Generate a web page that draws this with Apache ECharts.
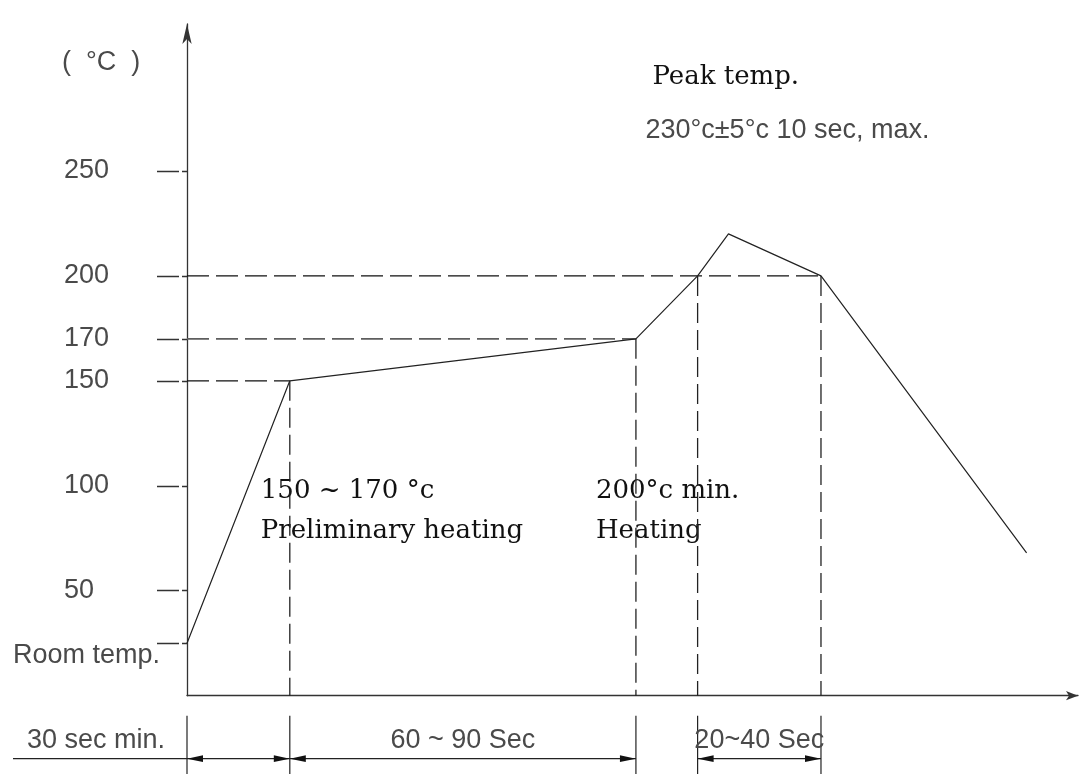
<!DOCTYPE html>
<html><head><meta charset="utf-8">
<script src="https://cdn.jsdelivr.net/npm/echarts@6/dist/echarts.min.js"></script>
<style>html,body{margin:0;padding:0;background:#fff}#chart{width:1084px;height:774px}</style>
</head><body><div id="chart"></div>
<script>
// ---- data (schematic reflow profile) ----
const timeSec = [0, 30, 131, 149, 158, 185, 245];
const tempC   = [25, 150, 170, 200, 220, 200, 68];
const yTickValues = [25, 50, 100, 150, 170, 200, 250];
const roomTemp = 25;
const refLevels = [150, 170, 200];
const refLevelEnds = [30, 131, 185];
const phaseTimes = [30, 131, 149, 185];
const phaseTemps = [150, 170, 200, 200];
const boundTimes = [0, 30, 131, 149, 185];
const spanStarts = [0, 30, 149];
const spanEnds   = [30, 131, 185];
const spanLabels = ['30 sec min.', '60 ~ 90 Sec', '20~40 Sec'];
const unitLabel = '(  °C  )';
const roomLabel = 'Room temp.';
const peakTitle = 'Peak temp.';
const peakNote = '230°c±5°c 10 sec, max.';
const preheatLines = ['150 ~ 170 °c', 'Preliminary heating'];
const heatLines = ['200°c min.', 'Heating'];

const CAD = '"Liberation Sans", "DejaVu Sans", sans-serif';
const SERIF = '"DejaVu Serif", "Liberation Serif", serif';
const CAD_COLOR = '#4a4a4a';
const chart = echarts.init(document.getElementById('chart'), null, {renderer: 'canvas'});

const series = [];
series.push({
  type: 'line', data: timeSec.map((t, i) => [t, tempC[i]]), symbol: 'none',
  lineStyle: {color: '#222', width: 1.2}, silent: true, z: 5, animation: false
});
refLevels.forEach((v, i) => series.push({
  type: 'line', data: [[0, v], [refLevelEnds[i], v]], symbol: 'none', silent: true, animation: false,
  lineStyle: {color: v === 170 ? '#5e5e5e' : '#111', width: v === 170 ? 1.8 : 1.3, type: [22, 7]}
}));
phaseTimes.forEach((t, i) => series.push({
  type: 'line', data: [[t, phaseTemps[i]], [t, 0]], symbol: 'none', silent: true, animation: false,
  lineStyle: {color: '#222', width: 1.3, type: [20, 7]}
}));

chart.setOption({
  backgroundColor: '#fff',
  animation: false,
  grid: {left: 187, right: 6, top: 24, bottom: 78.3, containLabel: false},
  xAxis: {
    type: 'value', min: 0, max: 260,
    axisLine: {show: true, symbol: ['none', 'arrow'], symbolSize: [7, 12], lineStyle: {color: '#333', width: 1.3}},
    axisTick: {show: false}, axisLabel: {show: false}, splitLine: {show: false}
  },
  yAxis: {
    type: 'value', min: 0, max: 320,
    axisLine: {show: true, symbol: ['none', 'arrow'], symbolSize: [7, 20], lineStyle: {color: '#333', width: 1.3}},
    axisTick: {show: true, customValues: yTickValues, length: 30, lineStyle: {color: '#333', width: 1.3, type: [5, 3, 22, 3]}},
    axisLabel: {
      show: true, customValues: yTickValues, margin: 123, align: 'left',
      formatter: v => (v === roomTemp ? '' : String(v)),
      fontFamily: CAD, fontSize: 27, color: CAD_COLOR
    },
    splitLine: {show: false}
  },
  series: series
});

const X = t => chart.convertToPixel({xAxisIndex: 0}, t);
const Y = v => chart.convertToPixel({yAxisIndex: 0}, v);
const base = Y(0);
const axisX = X(0);
const dimY = base + 63;
const g = [];
const stroke = {stroke: '#222', lineWidth: 1.2};
boundTimes.forEach(t => g.push({type: 'line', silent: true, shape: {x1: X(t), y1: base + 20, x2: X(t), y2: base + 80}, style: stroke}));
g.push({type: 'line', silent: true, shape: {x1: 13, y1: dimY, x2: axisX, y2: dimY}, style: stroke});
function arrow(xTip, dir) {
  return {type: 'polygon', silent: true, shape: {points: [[xTip, dimY], [xTip + dir * 16, dimY - 3.4], [xTip + dir * 16, dimY + 3.4]]}, style: {fill: '#111'}};
}
spanStarts.forEach((s, i) => {
  const x0 = X(s), x1 = X(spanEnds[i]);
  g.push({type: 'line', silent: true, shape: {x1: x0, y1: dimY, x2: x1, y2: dimY}, style: stroke});
  g.push(arrow(x0, 1));
  g.push(arrow(x1, -1));
  const first = i === 0;
  g.push({type: 'text', silent: true, style: {
    text: spanLabels[i], x: first ? axisX - 22 : (x0 + x1) / 2, y: base + 45,
    font: '27px ' + CAD, fill: CAD_COLOR,
    align: first ? 'right' : 'center', verticalAlign: 'middle',
    textAlign: first ? 'right' : 'center', textVerticalAlign: 'middle'
  }});
});
function txt(text, x, y, font, fill, lh) {
  return {type: 'text', silent: true, style: {text, x, y, font, fill, lineHeight: lh || 30,
    align: 'left', verticalAlign: 'middle', textAlign: 'left', textVerticalAlign: 'middle'}};
}
g.push(txt(unitLabel, 62, 63, '27px ' + CAD, CAD_COLOR));
g.push(txt(roomLabel, 13, Y(roomTemp) + 12, '27px ' + CAD, CAD_COLOR));
g.push(txt(peakTitle, X(timeSec[4]) - 76, 77, '26px ' + SERIF, '#111'));
g.push(txt(peakNote, X(timeSec[4]) - 83, 131, '27px ' + CAD, CAD_COLOR));
g.push(txt(preheatLines.join('\n'), X(phaseTimes[0]) - 29, 511, '26px ' + SERIF, '#111', 40));
g.push(txt(heatLines.join('\n'), X(phaseTimes[1]) - 40, 511, '26px ' + SERIF, '#111', 40));
chart.setOption({graphic: {elements: g}});
</script></body></html>
